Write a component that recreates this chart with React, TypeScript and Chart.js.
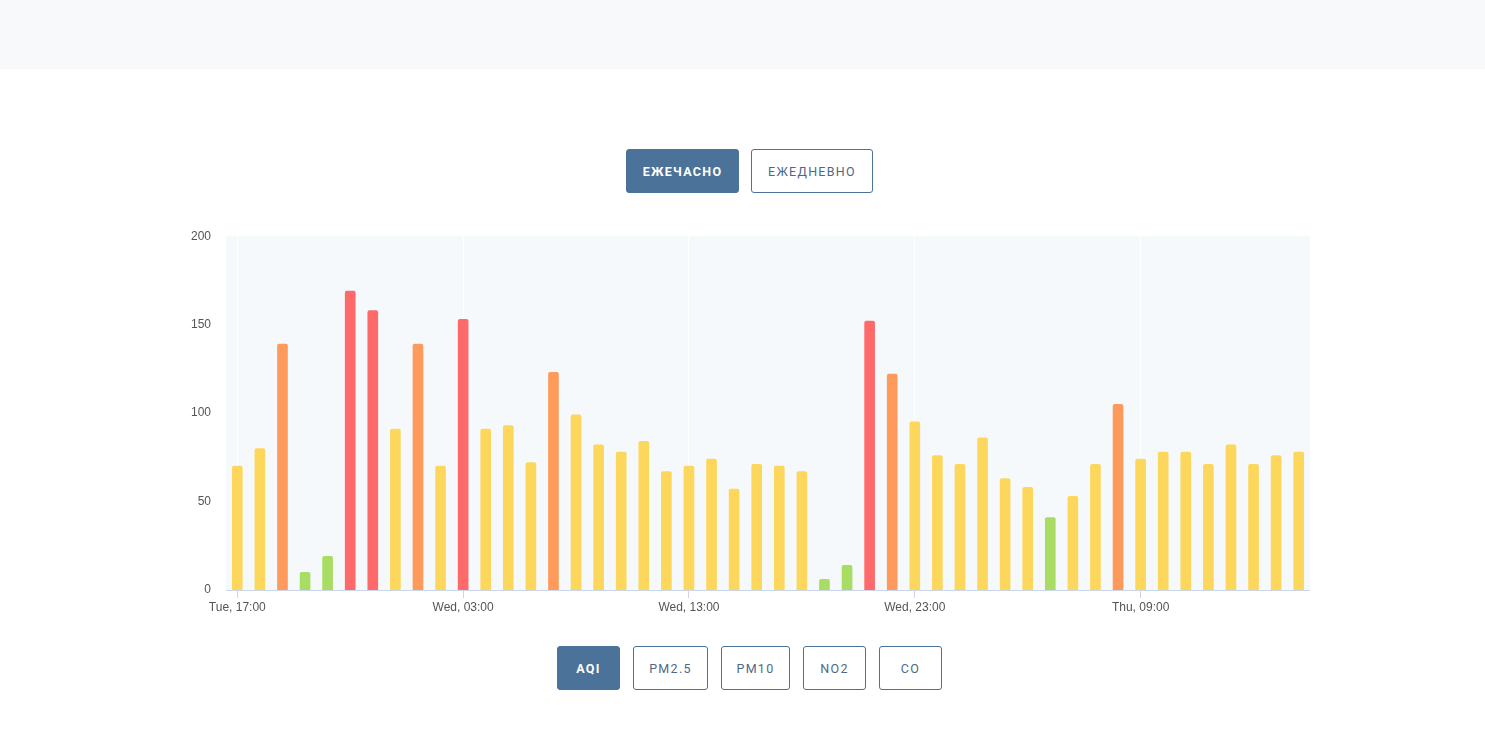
import React, { useEffect, useRef } from "react";
import { Chart, registerables } from "chart.js";

Chart.register(...registerables);

const days = ["Tue", "Wed", "Thu"];
const startHour = 17;
const hours = 48;
const labels: string[] = [];
for (let i = 0; i < hours; i++) {
  const h = startHour + i;
  const d = days[Math.floor(h / 24)];
  const hh = String(h % 24).padStart(2, "0");
  labels.push(`${d}, ${hh}:00`);
}

const aqiValues = [
  70, 80, 139, 10, 19, 169, 158, 91, 139, 70,
  153, 91, 93, 72, 123, 99, 82, 78, 84, 67,
  70, 74, 57, 71, 70, 67, 6, 14, 152, 122,
  95, 76, 71, 86, 63, 58, 41, 53, 71, 105,
  74, 78, 78, 71, 82, 71, 76, 78,
];

const yTicks = [0, 50, 100, 150, 200];
const periodButtons = ["ЕЖЕЧАСНО", "ЕЖЕДНЕВНО"];
const pollutantButtons = ["AQI", "PM2.5", "PM10", "NO2", "CO"];

function aqiColor(v: number): string {
  if (v <= 50) return "#a8dc63";
  if (v <= 100) return "#fdd75c";
  if (v <= 150) return "#fe9a5b";
  return "#fe6a69";
}

const bgPlugin = {
  id: "areaBg",
  beforeDraw(chart: any) {
    const { ctx, chartArea } = chart;
    ctx.save();
    ctx.fillStyle = "#f6f9fb";
    ctx.fillRect(chartArea.left, chartArea.top, chartArea.right - chartArea.left, chartArea.bottom - chartArea.top);
    ctx.restore();
  },
};

const BLUE = "#4b7299";

function Btn({ text, active, left, top, width }: { text: string; active: boolean; left: number; top: number; width: number }) {
  return (
    <div
      style={{
        position: "absolute",
        left,
        top,
        width,
        height: 44,
        boxSizing: "border-box",
        borderRadius: 3,
        border: `1px solid ${BLUE}`,
        background: active ? BLUE : "#fff",
        color: active ? "#fff" : "#4f6985",
        fontFamily: "Roboto, 'Noto Sans', sans-serif",
        fontWeight: active ? 700 : 400,
        fontSize: 12.5,
        letterSpacing: 1.3,
        display: "flex",
        alignItems: "center",
        justifyContent: "center",
      }}
    >
      {text}
    </div>
  );
}

export default function App() {
  const ref = useRef<HTMLCanvasElement | null>(null);

  useEffect(() => {
    document.body.style.margin = "0";
    const ctx = ref.current!;
    const chart = new Chart(ctx, {
      type: "bar",
      data: {
        labels,
        datasets: [
          {
            data: aqiValues,
            backgroundColor: aqiValues.map(aqiColor),
            barThickness: 10,
            borderRadius: 2,
          },
        ],
      },
      options: {
        animation: false,
        responsive: false,
        maintainAspectRatio: false,
        layout: { padding: { top: 0, right: 0, bottom: 0, left: 0 } },
        plugins: { legend: { display: false }, tooltip: { enabled: false } },
        scales: {
          x: {
            grid: {
              offset: false,
              color: "#ffffff",
              lineWidth: 1,
              drawTicks: true,
              tickLength: 8,
              tickColor: "#ccd6eb",
            },
            border: { display: true, color: "#ccd6eb" },
            ticks: {
              autoSkip: false,
              maxRotation: 0,
              minRotation: 0,
              padding: 2,
              color: "#555",
              font: { family: "'Liberation Sans', Arial, sans-serif", size: 12 },
              callback: (_v: any, i: number) => (i % 10 === 0 ? labels[i] : null),
            },
            afterFit: (s: any) => {
              s.height = 30;
            },
          },
          y: {
            min: yTicks[0],
            max: yTicks[yTicks.length - 1],
            grid: { display: false, drawTicks: false },
            border: { display: false },
            afterBuildTicks: (s: any) => {
              s.ticks = yTicks.map((v) => ({ value: v }));
            },
            ticks: {
              padding: 15,
              color: "#555",
              font: { family: "'Liberation Sans', Arial, sans-serif", size: 12 },
            },
            afterFit: (s: any) => {
              s.width = 46;
            },
          },
        },
      },
      plugins: [bgPlugin],
    });
    return () => chart.destroy();
  }, []);

  const topPos = [
    { left: 626, width: 113 },
    { left: 751, width: 122 },
  ];
  const botPos = [
    { left: 557, width: 63 },
    { left: 633, width: 75 },
    { left: 721, width: 69 },
    { left: 803, width: 63 },
    { left: 879, width: 63 },
  ];

  return (
    <div style={{ position: "relative", width: 1485, height: 732, background: "#fff", overflow: "hidden" }}>
      <div style={{ position: "absolute", left: 0, top: 0, width: 1485, height: 69, background: "#f8f9fa" }} />
      {periodButtons.map((t, i) => (
        <Btn key={t} text={t} active={i === 0} left={topPos[i].left} top={149} width={topPos[i].width} />
      ))}
      <div style={{ position: "absolute", left: 180, top: 214, width: 1130, height: 406 }}>
        <canvas ref={ref} width={1130} height={406} style={{ width: 1130, height: 406 }} />
      </div>
      {pollutantButtons.map((t, i) => (
        <Btn key={t} text={t} active={i === 0} left={botPos[i].left} top={646} width={botPos[i].width} />
      ))}
    </div>
  );
}
